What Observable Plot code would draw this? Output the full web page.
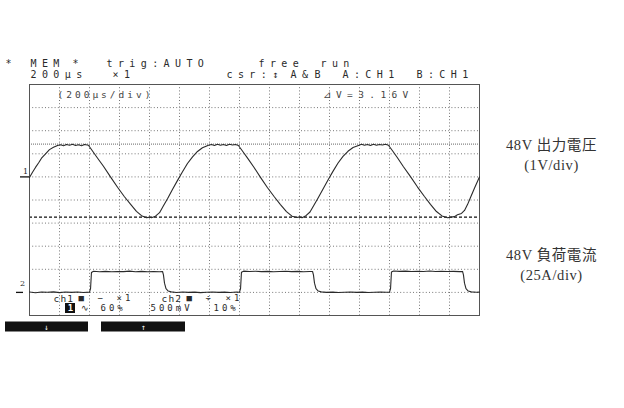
<!DOCTYPE html>
<html><head><meta charset="utf-8">
<script src="https://cdn.jsdelivr.net/npm/d3@7"></script>
<script src="https://cdn.jsdelivr.net/npm/@observablehq/plot@0.6"></script>
<style>
html,body{margin:0;padding:0;background:#fff;}
g[aria-description="scope-wide"] text{letter-spacing:5.4px;}
g[aria-description="scope-mid"] text{letter-spacing:3px;}
g[aria-description="scope-narrow"] text{letter-spacing:1.2px;}
g[aria-description="side"] text{letter-spacing:0.6px;}
</style></head><body><div id="chart"></div>
<script>
// ---- data ----
// CH1: 48 V output voltage deviation (V), 1 V/div
const vTime = [0,20,40,60,80,107,133,160,187,207,227,247,267,287,307,327,347,367,393,
  420,453,493,540,587,633,673,713,747,780,800,813,840,867,893,920,953,987,1020,1053,1087,1120,1153,
  1193,1213,1233,1253,1273,1293,1313,1333,1353,1373,1393,
  1422,1455,1495,1540,1587,1633,1673,1713,1750,1783,1800,1817,1843,1870,1897,1923,1957,1990,2023,2057,2090,2123,2157,
  2193,2213,2233,2253,2273,2293,2313,2333,2353,2373,2393,
  2420,2453,2493,2540,2587,2633,2673,2713,2750,2787,2810,2833,2853,2880,2900,2920,2940,2967,2993,3000];
const vVolt = [-0.03,0.20,0.41,0.60,0.81,1.00,1.18,1.28,1.36,1.39,1.35,1.40,1.37,1.41,1.36,1.39,1.35,1.40,1.37,
  1.12,0.82,0.46,0.00,-0.45,-0.86,-1.18,-1.49,-1.68,-1.77,-1.74,-1.77,-1.70,-1.55,-1.25,-0.95,-0.55,-0.15,0.22,0.58,0.87,1.10,1.26,
  1.37,1.40,1.36,1.41,1.37,1.40,1.36,1.41,1.38,1.40,1.36,
  1.10,0.80,0.43,-0.02,-0.47,-0.87,-1.20,-1.50,-1.70,-1.76,-1.73,-1.77,-1.68,-1.52,-1.22,-0.92,-0.52,-0.13,0.24,0.60,0.89,1.11,1.27,
  1.36,1.41,1.37,1.40,1.36,1.41,1.37,1.40,1.38,1.41,1.37,
  1.13,0.83,0.44,0.01,-0.44,-0.85,-1.19,-1.50,-1.69,-1.77,-1.74,-1.72,-1.64,-1.58,-1.45,-1.20,-0.89,-0.48,-0.10,0.00];
// CH2: 48 V load current (A), 25 A/div
const iTime = [0,40,80,120,160,200,240,280,320,360,400,407,413,427,467,507,547,587,627,667,707,747,787,827,867,887,893,900,910,925,945,
  980,1020,1060,1100,1140,1180,1220,1260,1300,1340,1380,1400,1407,1413,1427,1467,1507,1547,1587,1627,1667,1707,1747,1787,1827,1867,1887,1893,1900,1910,1925,1945,
  1980,2020,2060,2100,2140,2180,2220,2260,2300,2340,2380,2400,2407,2413,2427,2467,2507,2547,2587,2627,2667,2707,2747,2787,2827,2867,2887,2893,2900,2910,2925,2945,2980,3000];
const iAmp = [0.4,-0.3,0.5,0.1,0.6,-0.2,0.4,0.0,0.5,-0.1,0.3,4,21.5,22.9,22.4,22.8,22.3,22.7,22.5,23.0,22.4,22.8,22.3,22.7,22.4,22.6,19,10,4,1.5,0.6,
  -0.1,0.4,0.0,0.3,-0.2,0.2,0.5,0.0,0.3,-0.1,0.4,0.2,4,21.8,23.0,22.6,22.9,22.5,22.8,22.4,22.7,22.9,22.5,22.8,22.4,22.7,22.6,19,10,4,1.5,0.6,
  0.0,0.3,-0.1,0.2,0.4,0.0,0.3,-0.1,0.2,0.4,0.1,0.3,4,22.0,23.2,22.8,23.0,22.6,22.9,22.7,23.1,22.6,22.9,22.7,22.8,22.5,22.7,19,10,4,1.5,0.6,0.2,0.3];
const cursorA = 1.42, cursorB = -1.74;          // ΔV = 3.16 V
const header1 = ["*","MEM","*","trig:AUTO","free","run"];
const header2 = ["200µs","×1","csr:↕","A&","B","A:CH1","B:CH1"];
const topInner = ["(200µs/div)","⊿V=3.16V"];
const bottomCh = ["ch1","ch2"];
const bottom1 = ["■","−","×1","■","÷","×1"];
const bottom2 = ["∿","60%","500mV","10%"];
const chanBox = "1";
const arrows = ["↓","↑"];
const sideLabels = ["48V 出力電圧","(1V/div)","48V 負荷電流","(25A/div)"];
const chanMarks = ["1","2"];

// ---- layout ----
const W = 624, H = 408;
const mL = 29, mR = 145, mT = 84, mB = 93;
const X0 = 0, X1 = 3000, NDIV = 10;
const CH1_GROUND = 6, CH1_VDIV = 1, CH2_GROUND = 1, CH2_ADIV = 25;
const pxW = (W - mL - mR) / (X1 - X0), pxH = (H - mT - mB) / NDIV;
const tx = px => X0 + (px - mL) / pxW;      // pixel -> µs
const ty = py => (H - mB - py) / pxH;        // pixel -> div

const vData = vTime.map((t,i) => ({t, y: CH1_GROUND + vVolt[i] / CH1_VDIV}));
const iData = iTime.map((t,i) => ({t, y: CH2_GROUND + iAmp[i] / CH2_ADIV}));

const mono = "DejaVu Sans Mono, monospace";
const ink = "#2a2a2a";

function tokens(list, xs, py) {
  return list.map((s,i) => ({s, x: tx(xs[i]), y: ty(py)}));
}
const h1 = tokens(header1, [5,30,72,106,258,320], 63);
const h2 = tokens(header2, [30,112,226,290,314,342,416], 74);
const innerL = tokens(topInner.slice(0,1), [57], 94);
const innerR = tokens(topInner.slice(1), [322], 94);
const bch = tokens(bottomCh, [53,161], 298);
const b1 = tokens(bottom1, [78,97,116,186,205,225], 298);
const b2 = tokens(bottom2, [80,100,150,213], 308);

const plot = Plot.plot({
  width: W, height: H,
  marginLeft: mL, marginRight: mR, marginTop: mT, marginBottom: mB,
  x: {domain: [X0, X1], axis: null},
  y: {domain: [0, NDIV], axis: null},
  style: {background: "#fff", overflow: "visible"},
  marks: [
    Plot.ruleX(d3.range(200, 3000, 200), {stroke: "#777", strokeDasharray: "1,2.2", strokeWidth: 1}),
    Plot.ruleY(d3.range(1, 10), {stroke: "#777", strokeDasharray: "1,2.2", strokeWidth: 1}),
    Plot.ruleY([CH1_GROUND + cursorA / CH1_VDIV], {stroke: "#666", strokeDasharray: "1,1", strokeWidth: 1}),
    Plot.ruleY([CH1_GROUND + cursorB / CH1_VDIV], {stroke: "#111", strokeDasharray: "3,2", strokeWidth: 1.2}),
    Plot.frame({stroke: "#555", strokeWidth: 1}),
    Plot.line(vData, {x: "t", y: "y", stroke: ink, strokeWidth: 1.1}),
    Plot.line(iData, {x: "t", y: "y", stroke: ink, strokeWidth: 1.1}),
    // channel ground markers
    Plot.ruleY([CH1_GROUND], {x1: tx(20), x2: tx(29), stroke: "#111", strokeWidth: 1.3}),
    Plot.ruleY([CH2_GROUND], {x1: tx(16), x2: tx(23), stroke: "#111", strokeWidth: 1.3}),
    Plot.text([{s: chanMarks[0], x: tx(25), y: ty(171)}, {s: chanMarks[1], x: tx(22), y: ty(283)}],
      {x: "x", y: "y", text: "s", fontFamily: "DejaVu Serif, serif", fontSize: 8, fill: ink}),
    // header
    Plot.text([...h1, ...h2], {x: "x", y: "y", text: "s", textAnchor: "start", fontFamily: mono, fontSize: 10,
      fontWeight: d => d.s === "B" ? "bold" : "normal", fill: ink, ariaDescription: "scope-wide"}),
    Plot.text(innerL, {x: "x", y: "y", text: "s", textAnchor: "start", fontFamily: mono, fontSize: 9.5, fill: "#444", ariaDescription: "scope-mid"}),
    Plot.text(innerR, {x: "x", y: "y", text: "s", textAnchor: "start", fontFamily: mono, fontSize: 9.5, fill: "#444", ariaDescription: "scope-wide"}),
    Plot.text(bch, {x: "x", y: "y", text: "s", textAnchor: "start", fontFamily: mono, fontSize: 9.5, fill: ink, ariaDescription: "scope-narrow"}),
    Plot.text([...b1, ...b2], {x: "x", y: "y", text: "s", textAnchor: "start", fontFamily: mono,
      fontSize: 9, fill: ink, ariaDescription: "scope-mid"}),
    Plot.rect([{x1: tx(65), x2: tx(75), y1: ty(313), y2: ty(303)}], {x1: "x1", x2: "x2", y1: "y1", y2: "y2", fill: "#111"}),
    Plot.text([{s: chanBox, x: tx(70), y: ty(308)}], {x: "x", y: "y", text: "s", fontFamily: mono, fontSize: 9, fontWeight: "bold", fill: "#fff"}),
    // soft-key bars
    Plot.rect([{x1: tx(5), x2: tx(88)}, {x1: tx(101), x2: tx(185)}], {x1: "x1", x2: "x2", y1: ty(331.5), y2: ty(321.5), fill: "#111"}),
    Plot.text([{s: arrows[0], x: tx(46)}, {s: arrows[1], x: tx(143)}], {x: "x", y: ty(326.5), text: "s", fontFamily: mono, fontSize: 8, fill: "#fff"}),
    // side labels
    Plot.text([
      {s: sideLabels[0], x: tx(551), y: ty(145)},
      {s: sideLabels[1], x: tx(551), y: ty(165)},
      {s: sideLabels[2], x: tx(551), y: ty(255)},
      {s: sideLabels[3], x: tx(551), y: ty(275)}
    ], {x: "x", y: "y", text: "s", fontFamily: "Liberation Serif, Noto Sans CJK JP, serif", fontSize: 14.5, fill: "#333", ariaDescription: "side"})
  ]
});
document.getElementById("chart").append(plot);
</script></body></html>
